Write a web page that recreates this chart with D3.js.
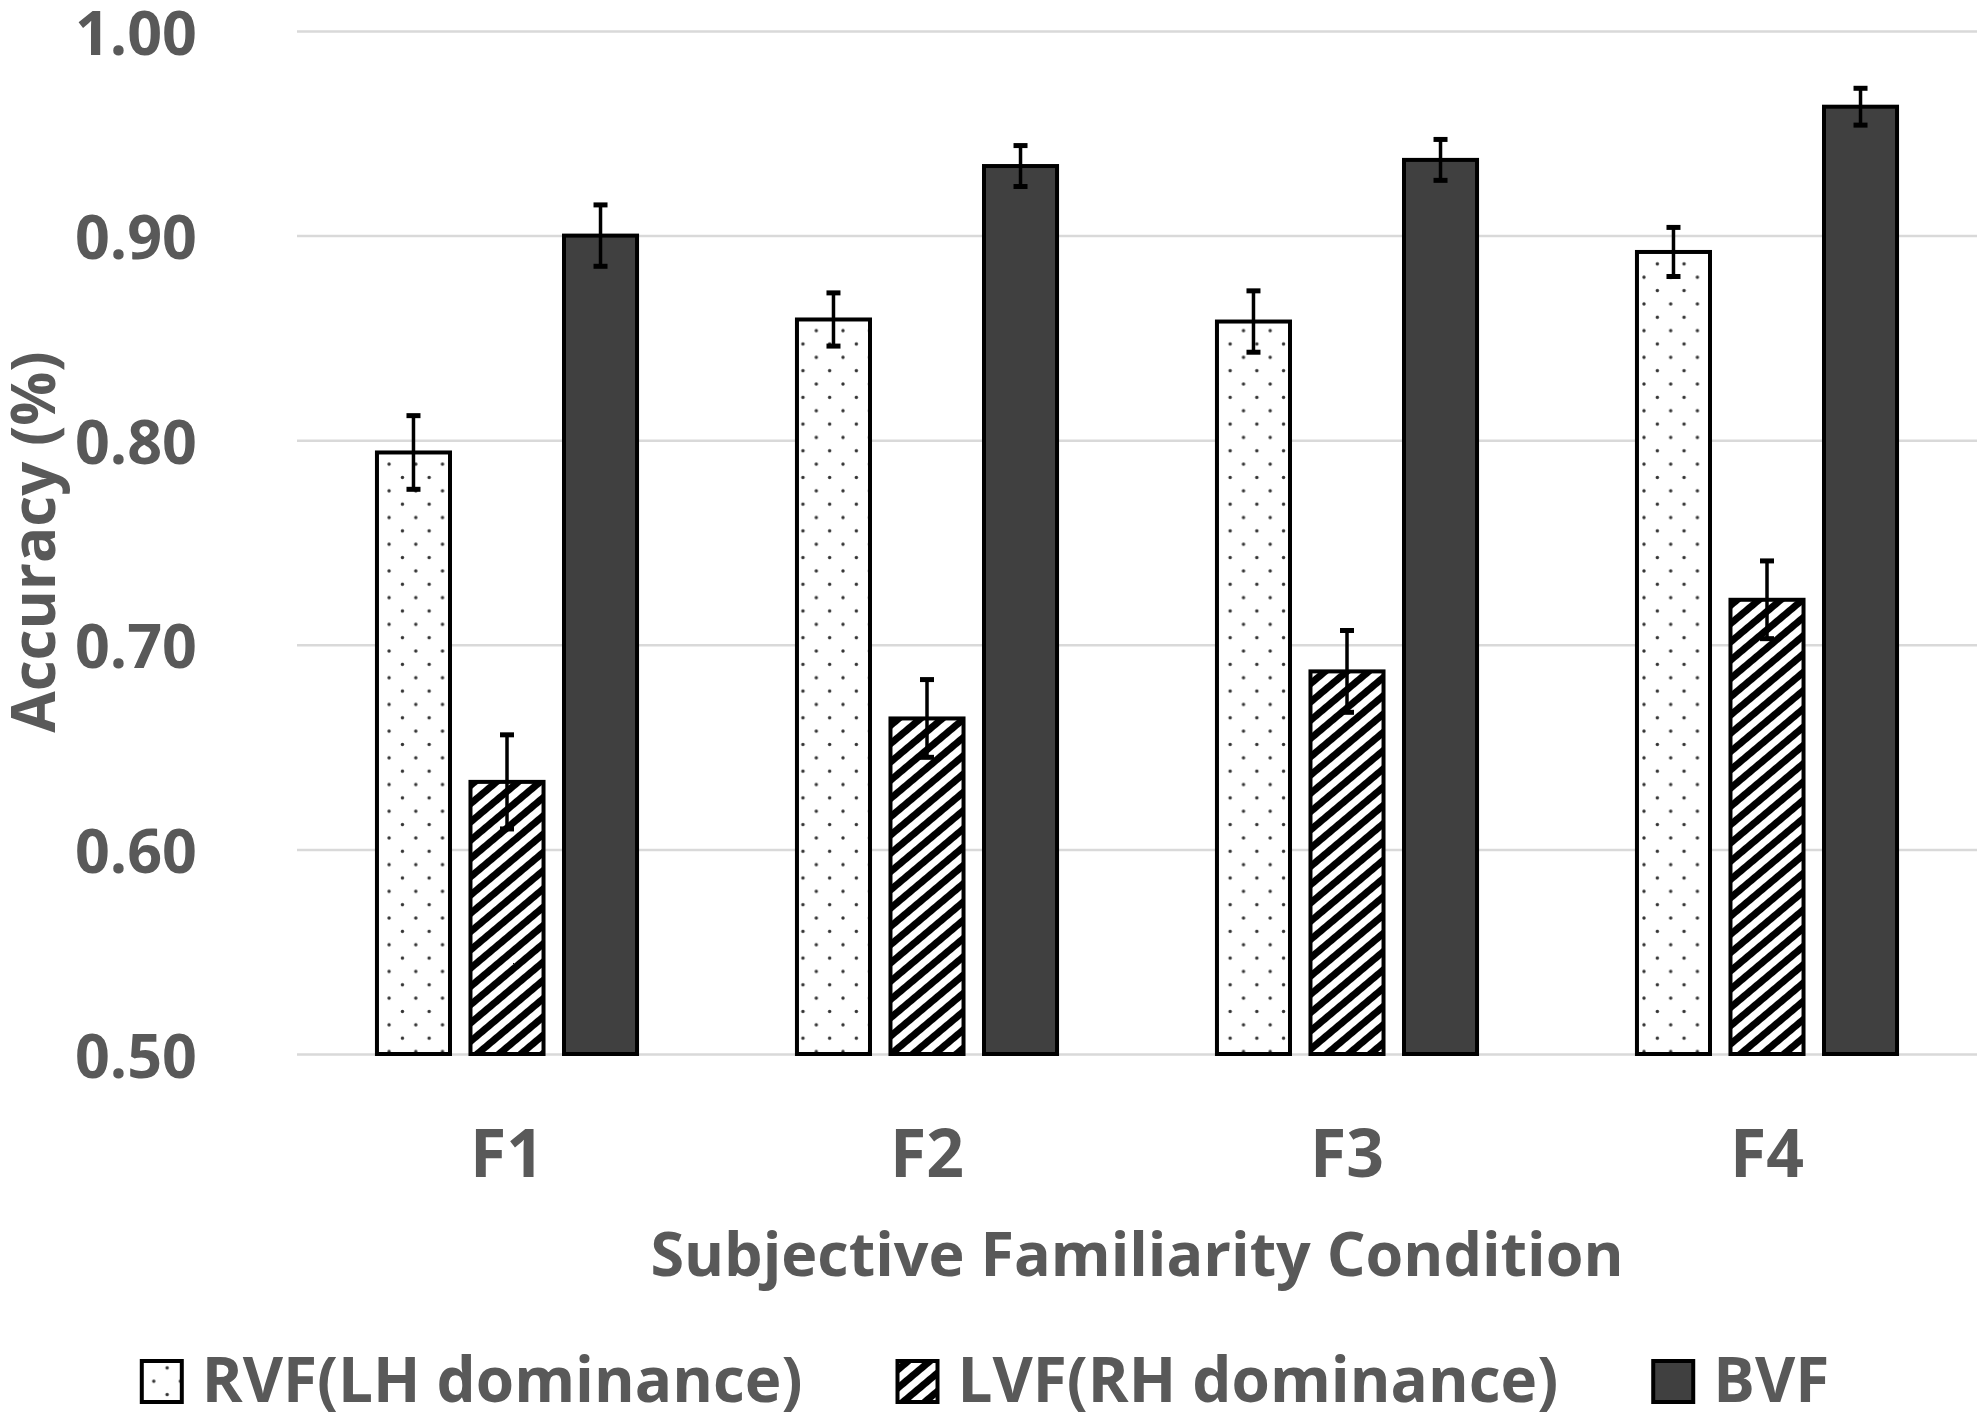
<!DOCTYPE html>
<html>
<head>
<meta charset="utf-8">
<script src="https://cdn.jsdelivr.net/npm/d3@7"></script>
<style>
  body { margin: 0; background: #fff; }
  text { font-family: "Open Sans", "Noto Sans", sans-serif; font-weight: bold; fill: #595959; }
</style>
</head>
<body>
<div id="chart"></div>
<script>
// Data
const categories = ["F1", "F2", "F3", "F4"];
const seriesNames = ["RVF(LH dominance)", "LVF(RH dominance)", "BVF"];
const rvfMeans = [0.794, 0.859, 0.858, 0.892];
const rvfErrors = [0.018, 0.013, 0.015, 0.012];
const lvfMeans = [0.633, 0.664, 0.687, 0.722];
const lvfErrors = [0.023, 0.019, 0.020, 0.019];
const bvfMeans = [0.900, 0.934, 0.937, 0.963];
const bvfErrors = [0.015, 0.010, 0.010, 0.009];
const yTicks = [0.5, 0.6, 0.7, 0.8, 0.9, 1.0];
const yTitle = "Accuracy (%)";
const xTitle = "Subjective Familiarity Condition";

const width = 1983, height = 1423;
const margin = { top: 31, right: 6, bottom: 369, left: 297 };
const innerW = width - margin.left - margin.right;
const innerH = height - margin.top - margin.bottom;

const series = [
  { name: seriesNames[0], means: rvfMeans, errs: rvfErrors, fill: "url(#dots)" },
  { name: seriesNames[1], means: lvfMeans, errs: lvfErrors, fill: "url(#hatch)" },
  { name: seriesNames[2], means: bvfMeans, errs: bvfErrors, fill: "#404040" }
];

const svg = d3.select("#chart").append("svg")
    .attr("width", width)
    .attr("height", height);

// patterns
const defs = svg.append("defs");
const dots = defs.append("pattern")
    .attr("id", "dots")
    .attr("patternUnits", "userSpaceOnUse")
    .attr("width", 26.7).attr("height", 26.7)
    .attr("x", 12);
dots.append("rect").attr("width", 26.7).attr("height", 26.7).attr("fill", "#fff");
dots.append("circle").attr("cx", 0).attr("cy", 6).attr("r", 1.7).attr("fill", "#333");
dots.append("circle").attr("cx", 26.7).attr("cy", 6).attr("r", 1.7).attr("fill", "#333");
dots.append("circle").attr("cx", 13.35).attr("cy", 19.35).attr("r", 1.7).attr("fill", "#333");

const hatch = defs.append("pattern")
    .attr("id", "hatch")
    .attr("patternUnits", "userSpaceOnUse")
    .attr("width", 20).attr("height", 14)
    .attr("patternTransform", "rotate(-40)");
hatch.append("rect").attr("width", 20).attr("height", 14).attr("fill", "#fff");
hatch.append("rect").attr("width", 20).attr("height", 7).attr("fill", "#000");

const g = svg.append("g").attr("transform", `translate(${margin.left},${margin.top})`);

const x = d3.scaleBand().domain(categories).range([0, innerW]);
const xInner = d3.scaleBand().domain(seriesNames).range([0, x.bandwidth()])
    .paddingInner(0.219).paddingOuter(0.855);
const y = d3.scaleLinear().domain([0.5, 1.0]).range([innerH, 0]);

// y axis with gridlines
const yAxis = g.append("g")
    .call(d3.axisLeft(y).tickValues(yTicks).tickFormat(d3.format(".2f"))
        .tickSize(-innerW).tickPadding(100));
yAxis.select(".domain").remove();
yAxis.selectAll(".tick line").attr("stroke", "#d9d9d9").attr("stroke-width", 2.5);
yAxis.selectAll(".tick text").style("font-size", "61px").attr("fill", "#595959")
    .attr("dy", "0.38em");

// bars
const groups = g.selectAll(".series")
    .data(series)
    .enter().append("g")
    .attr("class", "series");

groups.selectAll("rect")
    .data(s => categories.map((c, i) => ({ c, v: s.means[i], e: s.errs[i], s })))
    .enter().append("rect")
    .attr("x", d => x(d.c) + xInner(d.s.name))
    .attr("y", d => y(d.v))
    .attr("width", xInner.bandwidth())
    .attr("height", d => innerH - y(d.v))
    .attr("fill", d => d.s.fill)
    .attr("stroke", "#000")
    .attr("stroke-width", 4);

// error bars
const capW = 14;
const errs = groups.selectAll(".err")
    .data(s => categories.map((c, i) => ({ c, v: s.means[i], e: s.errs[i], s })))
    .enter().append("g")
    .attr("class", "err")
    .attr("transform", d => `translate(${x(d.c) + xInner(d.s.name) + xInner.bandwidth() / 2},0)`);
errs.append("line")
    .attr("y1", d => y(d.v + d.e)).attr("y2", d => y(d.v - d.e))
    .attr("stroke", "#000").attr("stroke-width", 3.5);
errs.append("line")
    .attr("x1", -capW / 2).attr("x2", capW / 2)
    .attr("y1", d => y(d.v + d.e)).attr("y2", d => y(d.v + d.e))
    .attr("stroke", "#000").attr("stroke-width", 5);
errs.append("line")
    .attr("x1", -capW / 2).attr("x2", capW / 2)
    .attr("y1", d => y(d.v - d.e)).attr("y2", d => y(d.v - d.e))
    .attr("stroke", "#000").attr("stroke-width", 5);

// x axis labels
const xAxis = g.append("g")
    .attr("transform", `translate(0,${innerH})`)
    .call(d3.axisBottom(x).tickSize(0).tickPadding(76));
xAxis.select(".domain").remove();
xAxis.selectAll(".tick text").style("font-size", "66px").attr("fill", "#595959");

// axis titles
g.append("text")
    .attr("x", innerW / 2)
    .attr("y", 1276 - margin.top)
    .attr("text-anchor", "middle")
    .style("font-size", "61px")
    .text(xTitle);

svg.append("text")
    .attr("transform", `translate(55,542) rotate(-90)`)
    .attr("text-anchor", "middle")
    .style("font-size", "60px")
    .text(yTitle);

// legend
const legend = svg.append("g");
const boxW = 40, boxGap = 20, itemGap = 95;
const items = legend.selectAll(".item")
    .data(series)
    .enter().append("g")
    .attr("class", "item");
items.append("text")
    .attr("x", boxW + boxGap)
    .attr("y", 0)
    .style("font-size", "62px")
    .text(d => d.name);
let offset = 0;
const offsets = [];
items.each(function () {
  offsets.push(offset);
  offset += boxW + boxGap + this.querySelector("text").getComputedTextLength() + itemGap;
});
const total = offset - itemGap;
const legendX = width / 2 - total / 2 - 6;
items.attr("transform", (d, i) => `translate(${legendX + offsets[i]},1402)`);
items.append("rect")
    .attr("x", 0).attr("y", -41)
    .attr("width", boxW).attr("height", 41)
    .attr("fill", d => d.fill)
    .attr("stroke", "#000")
    .attr("stroke-width", 4);
</script>
</body>
</html>
